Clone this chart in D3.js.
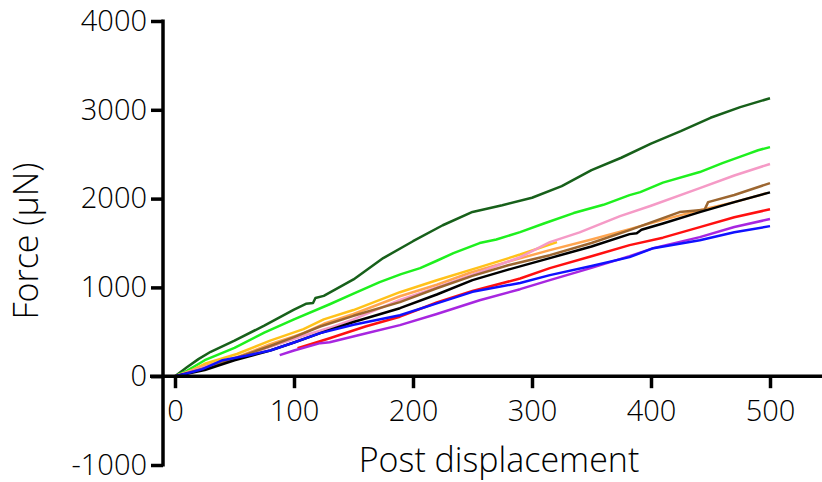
<!DOCTYPE html>
<html>
<head>
<meta charset="utf-8">
<script src="https://cdn.jsdelivr.net/npm/d3@7"></script>
<style>
  body { margin: 0; background: #fff; }
  svg { display: block; font-family: "Open Sans", "Noto Sans", sans-serif; font-weight: 300; }
</style>
</head>
<body>
<svg id="chart"></svg>
<script>
let width = 822, height = 482;

// tick values
let xTicks = [0, 100, 200, 300, 400, 500];
let yTicks = [-1000, 0, 1000, 2000, 3000, 4000];

// each series as [displacement, force] pairs
let darkGreen = [[0,0],[10,100],[20,195],[30,275],[50,400],[75,570],[100,750],[110,815],[116,825],[118,880],[125,905],[150,1090],[175,1330],[200,1520],[225,1700],[250,1850],[275,1925],[300,2010],[325,2140],[350,2320],[375,2460],[400,2620],[425,2760],[450,2910],[475,3030],[500,3130]];
let brightGreen = [[0,0],[10,60],[25,180],[50,320],[75,490],[100,640],[130,810],[150,930],[172,1060],[190,1150],[206,1217],[220,1300],[234,1386],[256,1499],[270,1540],[290,1623],[310,1720],[335,1837],[360,1930],[382,2039],[391,2073],[410,2180],[441,2299],[460,2400],[481,2501],[490,2545],[500,2580]];
let yellow = [[0,0],[10,40],[25,140],[52,250],[80,400],[108,530],[125,640],[150,745],[189,946],[220,1080],[256,1228],[290,1370],[321,1510]];
let orange = [[0,0],[25,115],[52,215],[80,360],[108,485],[125,590],[150,700],[189,900],[220,1030],[248,1165],[280,1290],[315,1420],[350,1540],[382,1656],[410,1760],[441,1870],[470,1960],[497,2060]];
let pink = [[0,0],[25,100],[50,200],[80,330],[108,455],[130,545],[150,640],[189,860],[220,1000],[256,1172],[290,1340],[315,1510],[340,1620],[374,1803],[400,1920],[441,2118],[470,2260],[500,2390]];
let brown = [[0,0],[25,90],[50,200],[80,340],[100,440],[122,560],[150,680],[189,834],[220,990],[250,1130],[280,1250],[315,1363],[350,1500],[382,1645],[424,1848],[445,1875],[448,1960],[470,2040],[500,2175]];
let black = [[0,0],[25,70],[50,180],[80,290],[100,380],[122,485],[150,610],[189,766],[220,920],[250,1082],[280,1200],[315,1330],[350,1460],[382,1600],[388,1610],[392,1650],[410,1720],[441,1848],[470,1960],[500,2070]];
let red = [[103,315],[130,428],[160,560],[189,670],[220,830],[250,960],[290,1100],[315,1217],[350,1350],[382,1476],[410,1560],[441,1679],[470,1790],[500,1880]];
let purple = [[88,237],[100,290],[122,372],[130,383],[160,480],[189,575],[220,700],[256,856],[290,980],[315,1082],[350,1220],[382,1352],[402,1442],[441,1566],[470,1680],[500,1770]];
let blue = [[0,0],[10,30],[23,80],[40,180],[60,230],[80,290],[100,380],[122,485],[150,580],[189,687],[220,820],[250,950],[290,1050],[315,1138],[350,1240],[382,1341],[402,1442],[441,1532],[470,1620],[500,1690]];

let series = [
    {data: darkGreen, color: "#17601a"},
    {data: brightGreen, color: "#1ef01e"},
    {data: yellow, color: "#ffc21a"},
    {data: orange, color: "#ffa54f"},
    {data: pink, color: "#f59ac6"},
    {data: brown, color: "#9c6630"},
    {data: black, color: "#000000"},
    {data: red, color: "#ff1010"},
    {data: purple, color: "#a726e0"},
    {data: blue, color: "#1010ff"}
];

let svg = d3.select("#chart")
    .attr("width", width)
    .attr("height", height);

let x = d3.scaleLinear().domain([0, 500]).range([175, 770]);
let y = d3.scaleLinear().domain([-1000, 4000]).range([465, 21]);

let line = d3.line()
    .x(d => x(d[0]))
    .y(d => y(d[1]));

svg.append("g")
    .selectAll("path")
    .data(series)
    .enter().append("path")
    .attr("d", d => line(d.data))
    .attr("fill", "none")
    .attr("stroke", d => d.color)
    .attr("stroke-width", 2.5)
    .attr("stroke-linejoin", "round");

// plain hyphen for negatives, like the original
let fmt = d => String(d);

// x axis sits on y = 0
let xAxis = svg.append("g")
    .attr("transform", "translate(0," + y(0) + ")")
    .call(d3.axisBottom(x).tickValues(xTicks).tickSize(12).tickPadding(12).tickFormat(fmt));
xAxis.select(".domain").remove();
xAxis.append("line")
    .attr("x1", 150).attr("x2", width)
    .attr("stroke", "#000").attr("stroke-width", 3.5);
xAxis.selectAll(".tick line").attr("stroke-width", 3.5);
xAxis.selectAll(".tick text").attr("font-size", 29).attr("font-family", "Open Sans").attr("font-weight", 300).attr("fill", "#000");

let yAxis = svg.append("g")
    .attr("transform", "translate(163,0)")
    .call(d3.axisLeft(y).tickValues(yTicks).tickSize(12).tickPadding(4).tickFormat(fmt));
yAxis.select(".domain").remove();
yAxis.append("line")
    .attr("y1", y(4000) - 1.5).attr("y2", y(-1000) + 1.5)
    .attr("stroke", "#000").attr("stroke-width", 3.5);
yAxis.selectAll(".tick line").attr("stroke-width", 3.5);
yAxis.selectAll(".tick text").attr("font-size", 29).attr("font-family", "Open Sans").attr("font-weight", 300).attr("fill", "#000");

// axis titles
svg.append("text")
    .attr("x", 499).attr("y", 472)
    .attr("text-anchor", "middle")
    .attr("font-size", 34)
    .text("Post displacement");

svg.append("text")
    .attr("transform", "translate(38,241) rotate(-90)")
    .attr("text-anchor", "middle")
    .attr("font-size", 34)
    .text("Force (μN)");
</script>
</body>
</html>
